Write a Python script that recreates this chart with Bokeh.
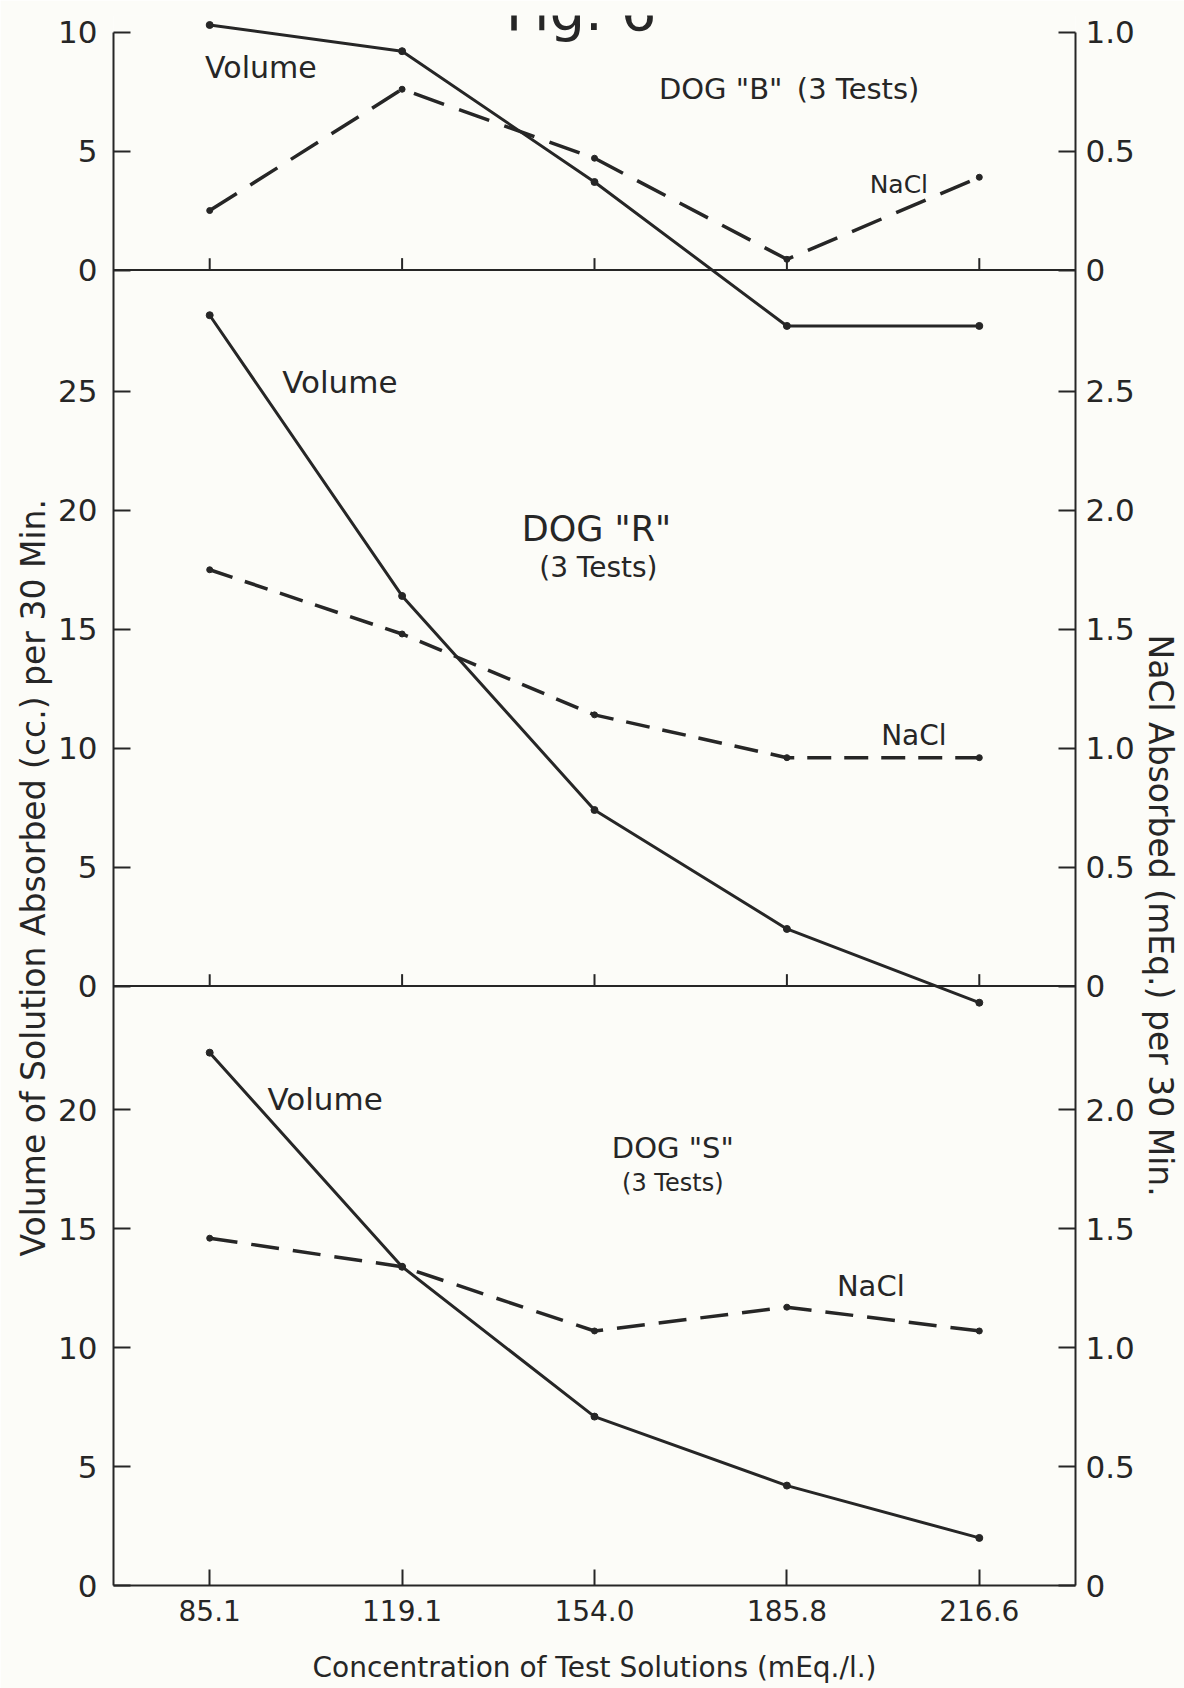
import numpy as np
from bokeh.plotting import figure
from bokeh.models import FactorRange, Range1d, LinearAxis, FixedTicker, Span, Label, Title
from bokeh.embed import file_html
from bokeh.resources import INLINE

# ---------------- data ----------------
concentrations = ["85.1", "119.1", "154.0", "185.8", "216.6"]

dog_b_volume = [10.3, 9.2, 3.7, -2.35, -2.35]
dog_b_nacl = [0.25, 0.76, 0.47, 0.045, 0.39]

dog_r_volume = [28.2, 16.4, 7.4, 2.4, -0.7]
dog_r_nacl = [1.75, 1.48, 1.14, 0.96, 0.96]

dog_s_volume = [22.4, 13.4, 7.1, 4.2, 2.0]
dog_s_nacl = [1.46, 1.34, 1.07, 1.17, 1.07]

vol_ticks_b = [0, 5, 10]
vol_ticks_r = [0, 5, 10, 15, 20, 25]
vol_ticks_s = [0, 5, 10, 15, 20]
nacl_labels_b = ["0", "0.5", "1.0"]
nacl_labels_r = ["0", "0.5", "1.0", "1.5", "2.0", "2.5"]
nacl_labels_s = ["0", "0.5", "1.0", "1.5", "2.0"]

# ------------- layout of stacked panels (one shared vertical scale) -------------
NACL_SCALE = 10.0           # 1 mEq NaCl drawn as tall as 10 cc
OFF_S, OFF_R, OFF_B = 0.0, 25.2, 55.3
TOP_B = OFF_B + 10.0

INK = "#262626"
PAPER = "#fcfcf8"
FONT = "DejaVu Sans"

p = figure(width=1184, height=1688, output_backend="svg", toolbar_location=None,
           x_range=FactorRange(*concentrations), y_range=Range1d(0, 66.0),
           min_border_left=113, min_border_right=108, min_border_top=15, min_border_bottom=103)
p.background_fill_color = PAPER
p.border_fill_color = PAPER
p.outline_line_color = None
p.xgrid.visible = False
p.ygrid.visible = False

# ---- tick positions / labels for both vertical axes ----
tick_pos = []
left_over = {}
right_over = {}
for off, ticks, nl in [(OFF_S, vol_ticks_s, nacl_labels_s),
                       (OFF_R, vol_ticks_r, nacl_labels_r),
                       (OFF_B, vol_ticks_b, nacl_labels_b)]:
    for t, lab in zip(ticks, nl):
        pos = round(off + t, 3)
        tick_pos.append(pos)
        left_over[pos] = str(t)
        right_over[pos] = lab

def style_y(ax):
    ax.ticker = FixedTicker(ticks=tick_pos)
    ax.minor_tick_line_color = None
    ax.major_tick_in = 17
    ax.major_tick_out = 0
    ax.major_tick_line_width = 2
    ax.major_tick_line_color = INK
    ax.axis_line_width = 2
    ax.axis_line_color = INK
    ax.bounds = (0, TOP_B)
    ax.major_label_text_font = FONT
    ax.major_label_text_font_size = "31px"
    ax.major_label_text_color = INK

yl = p.yaxis[0]
style_y(yl)
yl.major_label_overrides = left_over
yl.major_label_standoff = 16

yr = LinearAxis()
style_y(yr)
yr.major_label_overrides = right_over
yr.major_label_standoff = 10
p.add_layout(yr, "right")

# vertical axis titles (placed as side titles so they can sit where the original has them)
p.add_layout(Title(text="Volume of Solution Absorbed (cc.) per 30 Min.", align="left", offset=329,
                   text_font=FONT, text_font_size="33px", text_font_style="normal",
                   text_color=INK, standoff=6), "left")
p.add_layout(Title(text="NaCl Absorbed (mEq.) per 30 Min.", align="left", offset=619,
                   text_font=FONT, text_font_size="33px", text_font_style="normal",
                   text_color=INK, standoff=6), "right")

# ---- bottom axis ----
xa = p.xaxis[0]
xa.major_tick_in = 16
xa.major_tick_out = 0
xa.major_tick_line_width = 2
xa.major_tick_line_color = INK
xa.axis_line_width = 2
xa.axis_line_color = INK
xa.major_label_text_font = FONT
xa.major_label_text_font_size = "28px"
xa.major_label_text_color = INK
xa.major_label_standoff = 14
xa.axis_label = "Concentration of Test Solutions (mEq./l.)"
xa.axis_label_text_font = FONT
xa.axis_label_text_font_size = "28px"
xa.axis_label_text_font_style = "normal"
xa.axis_label_text_color = INK
xa.axis_label_standoff = 27

# ---- panel separator lines with their small ticks ----
for off in [OFF_R, OFF_B]:
    p.add_layout(Span(location=off, dimension="width", line_color=INK, line_width=2))
    p.segment(x0=concentrations, y0=[off] * 5, x1=concentrations, y1=[off + 0.5] * 5,
              line_color=INK, line_width=2)

# ---- data ----
panels = [
    (OFF_B, dog_b_volume, dog_b_nacl, "32 16"),
    (OFF_R, dog_r_volume, dog_r_nacl, "24 13"),
    (OFF_S, dog_s_volume, dog_s_nacl, "28 14"),
]
for off, vol, nacl, dash in panels:
    yv = off + np.array(vol)
    yn = off + NACL_SCALE * np.array(nacl)
    p.line(x=concentrations, y=yv, line_color=INK, line_width=3)
    p.scatter(x=concentrations, y=yv, size=7, color=INK)
    p.line(x=concentrations, y=yn, line_color=INK, line_width=3.5, line_dash=dash)
    p.scatter(x=concentrations, y=yn, size=6, color=INK)

# ---- annotations ----
def lab(x, y, text, size, align="left", baseline="middle"):
    p.add_layout(Label(x=x, y=y, text=text, text_font=FONT, text_font_size=f"{size}px",
                       text_color=INK, text_align=align, text_baseline=baseline))

lab(0.476, 63.8, "Volume", 30)
lab(2.835, 62.9, 'DOG "B"\u2002(3 Tests)', 29)
lab(3.93, 58.9, "NaCl", 25)

lab(0.877, 50.6, "Volume", 31)
lab(2.51, 44.4, 'DOG "R"', 35, align="center")
lab(2.52, 42.8, "(3 Tests)", 28, align="center")
lab(3.99, 35.75, "NaCl", 28)

lab(0.80, 20.45, "Volume", 31)
lab(2.907, 18.4, 'DOG "S"', 29, align="center")
lab(2.907, 16.9, "(3 Tests)", 24, align="center")
lab(3.76, 12.6, "NaCl", 29)

lab(2.43, 66.2, "Fig. 6", 56, align="center", baseline="alphabetic")

open("out.html", "w").write(file_html(p, INLINE))
